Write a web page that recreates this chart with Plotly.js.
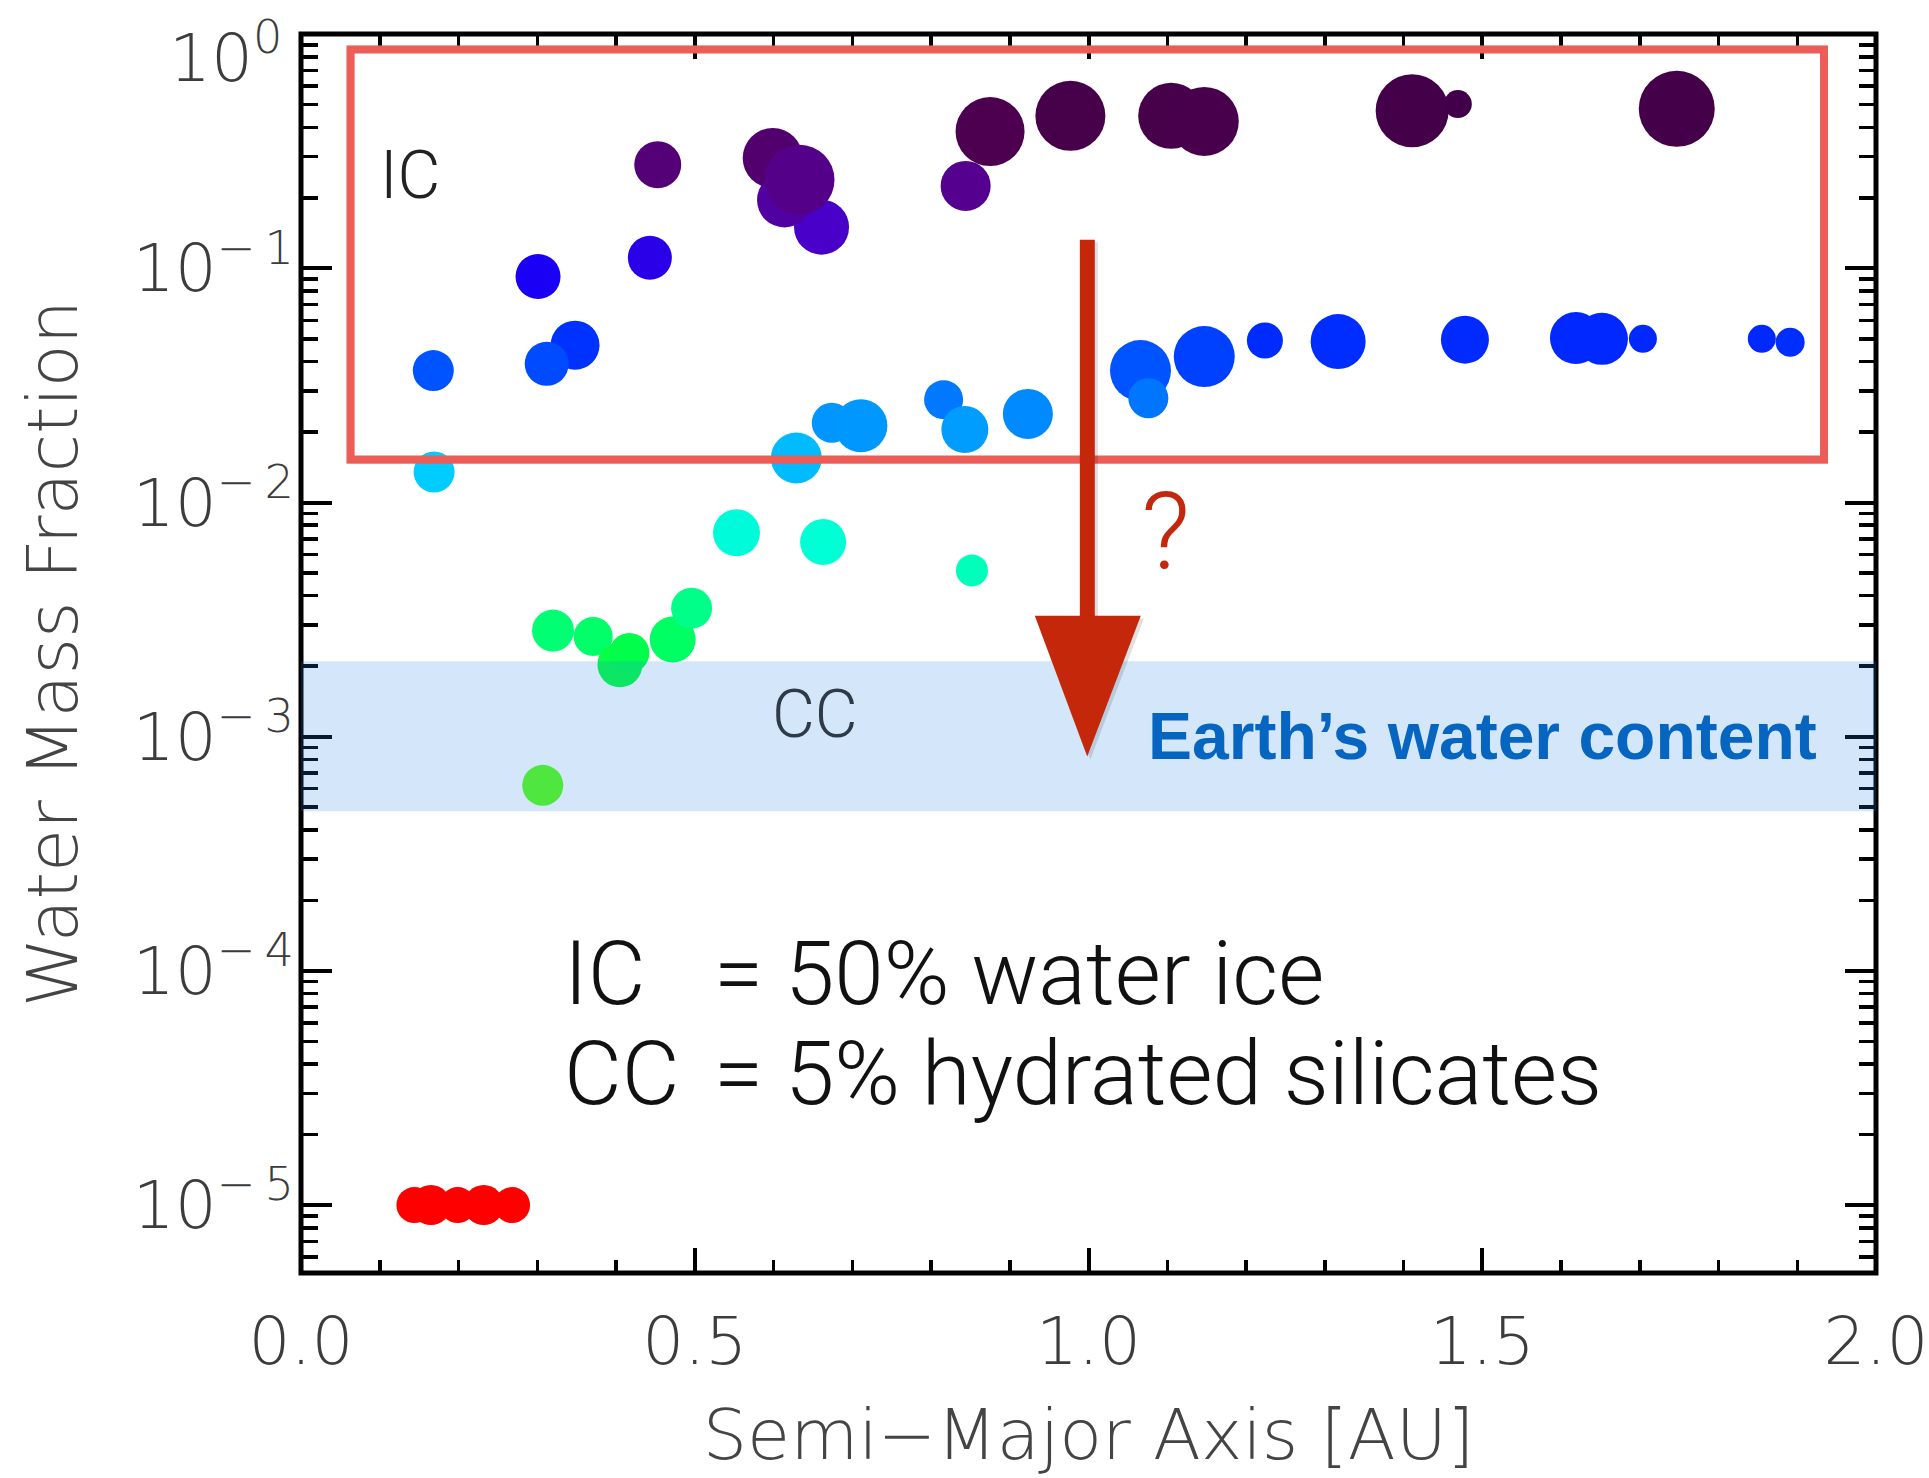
<!DOCTYPE html>
<html>
<head>
<meta charset="utf-8">
<script src="https://cdn.plot.ly/plotly-3.0.1.min.js"></script>
<style>html,body{margin:0;padding:0;background:#ffffff;}</style>
</head>
<body>
<div id="chart" style="width:1929px;height:1478px;"></div>
<script>
// ---- data ----
const semiMajorAxis = [
  0.144, 0.165, 0.199, 0.232, 0.268,
  0.307, 0.320, 0.371, 0.405, 0.417, 0.472, 0.496,
  0.553, 0.663, 0.852,
  0.169, 0.629, 0.674, 0.711, 0.816, 0.843, 0.923,
  0.168, 0.348, 0.312, 1.066, 1.076, 1.147, 1.224, 1.317, 1.478, 1.619, 1.652, 1.704, 1.855, 1.891,
  0.301, 0.443, 0.661, 0.599, 0.614, 0.633, 0.453, 0.844, 0.875, 0.977, 1.105, 1.147, 1.411, 1.469, 1.747
];
const waterMassFraction = [
  1.0e-5, 1.0e-5, 1.0e-5, 1.0e-5, 1.0e-5,
  0.00062, 0.00284, 0.00268, 0.00203, 0.00228, 0.00260, 0.00354,
  0.00743, 0.00678, 0.00513,
  0.0135, 0.0155, 0.0219, 0.0213, 0.0275, 0.0205, 0.0239,
  0.0366, 0.0470, 0.0391, 0.0366, 0.0279, 0.0420, 0.0492, 0.0487, 0.0496, 0.0504, 0.0500, 0.0500, 0.0500, 0.0484,
  0.0923, 0.111, 0.150, 0.296, 0.196, 0.239, 0.277, 0.225, 0.384, 0.448, 0.448, 0.424, 0.471, 0.503, 0.480
];
const planetSize = [
  36, 40, 36, 40, 36,
  41, 42, 39, 45, 40, 46, 41,
  47, 46, 32,
  41, 51, 40, 53, 39, 47, 50,
  41, 49, 44, 61, 40, 61, 36, 55, 48, 52, 52, 28, 28, 29,
  45, 44, 55, 60, 55, 70, 47, 50, 69, 70, 66, 69, 73, 28, 76
];
const xTickVals = [0, 0.5, 1.0, 1.5, 2.0];
const xTickText = ['0.0', '0.5', '1.0', '1.5', '2.0'];
const yTickVals = [1, 0.1, 0.01, 0.001, 0.0001, 0.00001];
const yTickText = ['10<sup>0</sup>', '10<sup>\u2212\u20091</sup>', '10<sup>\u2212\u20092</sup>',
                   '10<sup>\u2212\u20093</sup>', '10<sup>\u2212\u20094</sup>', '10<sup>\u2212\u20095</sup>'];
const earthWaterBand = [0.00048, 0.0021];
// colour ramp over log10(water mass fraction), from -5 to 0
const waterColorScale = [
  [0.000, '#ff0000'], [0.358, '#5bff16'], [0.470, '#00ff48'], [0.490, '#00ff72'],
  [0.510, '#00ff88'], [0.542, '#00ffbb'], [0.570, '#00ffd8'], [0.626, '#00ccff'],
  [0.638, '#00bbff'], [0.666, '#0098ff'], [0.688, '#0078ff'], [0.712, '#0055ff'],
  [0.734, '#0033ff'], [0.740, '#0028ff'], [0.793, '#1a00f5'], [0.810, '#2a00e6'],
  [0.836, '#4a00c8'], [0.870, '#55008f'], [0.888, '#540078'], [0.916, '#4e0050'],
  [0.930, '#47004a'], [0.940, '#43004a'], [1.000, '#40004a']
];

const logWater = waterMassFraction.map(v => Math.log10(v));

const trace = {
  type: 'scatter',
  mode: 'markers',
  x: semiMajorAxis,
  y: waterMassFraction,
  marker: {
    size: planetSize,
    sizemode: 'diameter',
    opacity: 1,
    color: logWater,
    cmin: -5, cmax: 0,
    colorscale: waterColorScale,
    showscale: false,
    line: {width: 0}
  },
  hoverinfo: 'x+y'
};

const axisFamily = '"DejaVu Sans", Lato, sans-serif';
const tickFont = {family: axisFamily, size: 66, color: '#3c3c3c', weight: 200};
const titleFont = {family: axisFamily, size: 70, color: '#444444', weight: 200};

// the top label (10^0) sits at the very top edge; it is placed just inside the page as a text note
const yTickTextShown = yTickText.map((t, i) => (i === 0 ? '' : t));

const layout = {
  width: 1929, height: 1478,
  margin: {l: 301, r: 53, t: 34, b: 205},
  paper_bgcolor: '#ffffff',
  plot_bgcolor: '#ffffff',
  showlegend: false,
  xaxis: {
    range: [0, 2],
    tickmode: 'array', tickvals: xTickVals, ticktext: xTickText,
    ticks: 'inside', ticklen: 25, tickwidth: 4, tickcolor: '#000',
    minor: {dtick: 0.1, tick0: 0, ticks: 'inside', ticklen: 13, tickwidth: 3.5, tickcolor: '#000'},
    showline: false, mirror: 'ticks',
    showgrid: false, zeroline: false,
    tickfont: tickFont,
    ticklabelstandoff: 24,
    title: {text: 'Semi\u2212Major Axis [AU]', font: titleFont, standoff: 30}
  },
  yaxis: {
    type: 'log',
    range: [-5.29, 0.0008],
    tickmode: 'array', tickvals: yTickVals, ticktext: yTickTextShown,
    ticks: 'inside', ticklen: 31, tickwidth: 4, tickcolor: '#000',
    minor: {dtick: 'D1', ticks: 'inside', ticklen: 17, tickwidth: 3.5, tickcolor: '#000'},
    showline: false, mirror: 'ticks',
    showgrid: false, zeroline: false,
    tickfont: tickFont,
    ticklabelstandoff: 6,
    title: {text: 'Water Mass Fraction', font: titleFont, standoff: 32}
  },
  shapes: [
    // plot frame, centred on the plot edges like the original
    {type: 'rect', layer: 'above', xref: 'paper', yref: 'paper', x0: 0, x1: 1, y0: 0, y1: 1,
     line: {color: '#000000', width: 5}, fillcolor: 'rgba(0,0,0,0)'},
    // Earth's water content band
    {type: 'rect', layer: 'above', xref: 'paper', yref: 'y', x0: 0, x1: 1,
     y0: earthWaterBand[0], y1: earthWaterBand[1],
     fillcolor: 'rgba(35,130,230,0.2)', line: {width: 0}},
    // hand-drawn red frame around the IC region
    {type: 'rect', layer: 'above', xref: 'paper', yref: 'paper', x0: 0.0315, x1: 0.967, y0: 0.6565, y1: 0.9874,
     line: {color: '#eb5d56', width: 8}, fillcolor: 'rgba(0,0,0,0)'},
    {type: 'rect', layer: 'above', xref: 'paper', yref: 'paper', x0: 0.0296, x1: 0.9688, y0: 0.6540, y1: 0.9897,
     line: {color: 'rgba(235,93,86,0.55)', width: 2}, fillcolor: 'rgba(0,0,0,0)'},
    // arrow shadow
    {type: 'rect', layer: 'above', xref: 'paper', yref: 'paper', x0: 0.4965, x1: 0.5060, y0: 0.5250, y1: 0.8320,
     fillcolor: 'rgba(0,0,0,0.12)', line: {width: 0}},
    {type: 'path', layer: 'above', xref: 'paper', yref: 'paper',
     path: 'M 0.4679 0.5282 L 0.5352 0.5282 L 0.5012 0.4145 Z',
     fillcolor: 'rgba(0,0,0,0.12)', line: {width: 0}},
    // red arrow
    {type: 'rect', layer: 'above', xref: 'paper', yref: 'paper', x0: 0.4945, x1: 0.5040, y0: 0.5273, y1: 0.8340,
     fillcolor: '#c4270a', line: {width: 0}},
    {type: 'path', layer: 'above', xref: 'paper', yref: 'paper',
     path: 'M 0.4659 0.5305 L 0.5332 0.5305 L 0.4992 0.4168 Z',
     fillcolor: '#c4270a', line: {width: 0}}
  ],
  annotations: [
    {text: yTickText[0], xref: 'paper', yref: 'paper', x: -0.011, y: 0.9845, xanchor: 'right', yanchor: 'middle',
     showarrow: false, font: tickFont},
    {text: 'IC', xref: 'paper', yref: 'paper', x: 0.0690, y: 0.8861, xanchor: 'center', yanchor: 'middle',
     showarrow: false, font: {family: 'Roboto, sans-serif', size: 66, color: '#222222', weight: 300}},
    {text: 'CC', xref: 'paper', yref: 'paper', x: 0.3262, y: 0.4510, xanchor: 'center', yanchor: 'middle',
     showarrow: false, font: {family: 'Roboto, sans-serif', size: 66, color: '#2e3a48', weight: 300}},
    {text: 'Earth\u2019s water content', xref: 'paper', yref: 'paper', x: 0.7504, y: 0.4331, xanchor: 'center', yanchor: 'middle',
     showarrow: false, font: {family: '"Liberation Sans", Arial, sans-serif', size: 66, color: '#0565c0', weight: 700}},
    {text: '?', xref: 'paper', yref: 'paper', x: 0.5491, y: 0.5984, xanchor: 'center', yanchor: 'middle',
     showarrow: false, font: {family: 'Roboto, sans-serif', size: 108, color: '#c4280c', weight: 300}},
    {text: 'IC', xref: 'paper', yref: 'paper', x: 0.1655, y: 0.2420, xanchor: 'left', yanchor: 'middle',
     showarrow: false, font: {family: 'Roboto, sans-serif', size: 89, color: '#111111', weight: 300}},
    {text: '= 50% water ice', xref: 'paper', yref: 'paper', x: 0.2611, y: 0.2420, xanchor: 'left', yanchor: 'middle',
     showarrow: false, font: {family: 'Roboto, sans-serif', size: 89, color: '#111111', weight: 300}},
    {text: 'CC', xref: 'paper', yref: 'paper', x: 0.1655, y: 0.1609, xanchor: 'left', yanchor: 'middle',
     showarrow: false, font: {family: 'Roboto, sans-serif', size: 89, color: '#111111', weight: 300}},
    {text: '= 5% hydrated silicates', xref: 'paper', yref: 'paper', x: 0.2611, y: 0.1609, xanchor: 'left', yanchor: 'middle',
     showarrow: false, font: {family: 'Roboto, sans-serif', size: 89, color: '#111111', weight: 300}}
  ]
};

Plotly.newPlot('chart', [trace], layout, {displayModeBar: false, staticPlot: true});
</script>
</body>
</html>
